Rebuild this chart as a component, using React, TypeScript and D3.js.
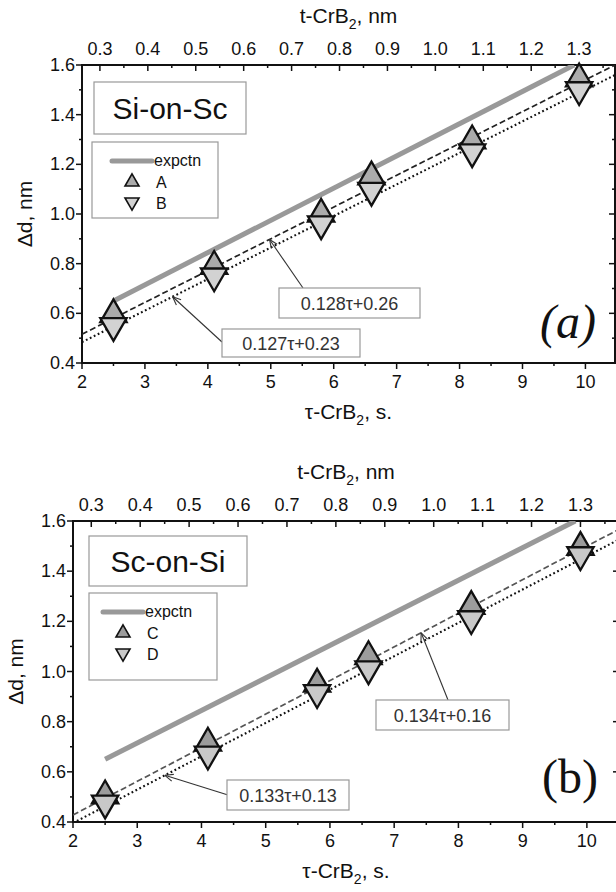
import React, { useEffect, useRef } from 'react';
import * as d3 from 'd3';

// deposition time of CrB2 (s) for every sample
const tau = [2.5, 4.1, 5.8, 6.6, 8.2, 9.9];
// Si-on-Sc
const seriesA = [0.595, 0.79, 1.0, 1.15, 1.295, 1.545];
const seriesB = [0.55, 0.75, 0.96, 1.095, 1.25, 1.5];
// Sc-on-Si
const seriesC = [0.505, 0.715, 0.95, 1.06, 1.26, 1.495];
const seriesD = [0.475, 0.67, 0.915, 1.01, 1.21, 1.465];
// expected shift
const expctnTau = [2.5, 9.82];
const expctnVal = [0.65, 1.6];
// linear fits [dashed, dotted]
const fitSlopeTop = [0.128, 0.127];
const fitInterTop = [0.26, 0.23];
const fitSlopeBot = [0.134, 0.133];
const fitInterBot = [0.16, 0.13];
const fitLabelsTop = ['0.128τ+0.26', '0.127τ+0.23'];
const fitLabelsBot = ['0.134τ+0.16', '0.133τ+0.13'];

const xTicks = [2, 3, 4, 5, 6, 7, 8, 9, 10];
const yTicks = [0.4, 0.6, 0.8, 1.0, 1.2, 1.4, 1.6];
const topTicks = [0.3, 0.4, 0.5, 0.6, 0.7, 0.8, 0.9, 1.0, 1.1, 1.2, 1.3];
const nmPerSec = 1.3 / 9.9;

const FONT = "'Liberation Sans', Arial, sans-serif";

function Panel({ cfg }) {
  const ref = useRef(null);

  useEffect(() => {
    const g = d3.select(ref.current);
    g.selectAll('*').remove();

    const x = d3.scaleLinear().domain(cfg.xDomain).range([cfg.left, cfg.right]);
    const y = d3.scaleLinear().domain([0.4, 1.6]).range([cfg.bottom, cfg.top]);
    const xt = d3.scaleLinear()
      .domain([cfg.xDomain[0] * nmPerSec, cfg.xDomain[1] * nmPerSec])
      .range([cfg.left, cfg.right]);

    const clipId = 'clip-' + cfg.id;
    g.append('clipPath').attr('id', clipId)
      .append('rect')
      .attr('x', cfg.left).attr('y', cfg.top)
      .attr('width', cfg.right - cfg.left).attr('height', cfg.bottom - cfg.top);

    // ticks
    const tickG = g.append('g').attr('stroke', '#111').attr('stroke-width', 1.5);
    const minorY = d3.range(0.5, 1.6, 0.2);
    yTicks.forEach(v => {
      tickG.append('line').attr('x1', cfg.left - 6).attr('x2', cfg.left).attr('y1', y(v)).attr('y2', y(v));
      tickG.append('line').attr('x1', cfg.right - 6).attr('x2', cfg.right).attr('y1', y(v)).attr('y2', y(v));
    });
    minorY.forEach(v => {
      tickG.append('line').attr('x1', cfg.left - 3).attr('x2', cfg.left).attr('y1', y(v)).attr('y2', y(v));
      tickG.append('line').attr('x1', cfg.right - 3).attr('x2', cfg.right).attr('y1', y(v)).attr('y2', y(v));
    });
    xTicks.forEach(v => {
      tickG.append('line').attr('x1', x(v)).attr('x2', x(v)).attr('y1', cfg.bottom).attr('y2', cfg.bottom + 6);
      tickG.append('line').attr('x1', x(v + 0.5)).attr('x2', x(v + 0.5)).attr('y1', cfg.bottom).attr('y2', cfg.bottom + 3);
    });
    topTicks.forEach(v => {
      tickG.append('line').attr('x1', xt(v)).attr('x2', xt(v)).attr('y1', cfg.top).attr('y2', cfg.top + 6);
      tickG.append('line').attr('x1', xt(v + 0.05)).attr('x2', xt(v + 0.05)).attr('y1', cfg.top).attr('y2', cfg.top + 3);
    });

    // spines
    g.append('rect')
      .attr('x', cfg.left).attr('y', cfg.top)
      .attr('width', cfg.right - cfg.left).attr('height', cfg.bottom - cfg.top)
      .attr('fill', 'none').attr('stroke', '#111').attr('stroke-width', 2);

    // tick labels
    const lab = g.append('g').attr('font-family', FONT).attr('font-size', 18).attr('fill', '#111');
    yTicks.forEach(v => {
      lab.append('text').attr('x', cfg.left - 7).attr('y', y(v) + 6)
        .attr('text-anchor', 'end').text(v.toFixed(1));
    });
    xTicks.forEach(v => {
      lab.append('text').attr('x', x(v)).attr('y', cfg.bottom + 25)
        .attr('text-anchor', 'middle').text(String(v));
    });
    topTicks.forEach(v => {
      lab.append('text').attr('x', xt(v)).attr('y', cfg.top - 10)
        .attr('text-anchor', 'middle').text(v.toFixed(1));
    });

    // axis titles
    const midX = (cfg.left + cfg.right) / 2;
    const tt = lab.append('text').attr('x', midX).attr('y', cfg.top - 42)
      .attr('text-anchor', 'middle').attr('font-size', 21);
    tt.append('tspan').text('t-CrB');
    tt.append('tspan').attr('dy', 6).attr('font-size', 14).text('2');
    tt.append('tspan').attr('dy', -6).text(', nm');

    const bt = lab.append('text').attr('x', midX).attr('y', cfg.bottom + 56)
      .attr('text-anchor', 'middle').attr('font-size', 21);
    bt.append('tspan').text('τ-CrB');
    bt.append('tspan').attr('dy', 6).attr('font-size', 14).text('2');
    bt.append('tspan').attr('dy', -6).text(', s.');

    lab.append('text')
      .attr('transform', `translate(${cfg.left - 50},${(cfg.top + cfg.bottom) / 2}) rotate(-90)`)
      .attr('text-anchor', 'middle').attr('font-size', 21).text('Δd, nm');

    // lines
    const plot = g.append('g').attr('clip-path', `url(#${clipId})`);
    const fitX = cfg.xDomain;
    const fitStyles = [
      { dash: '6,3', color: cfg.dashColor, width: 1.7 },
      { dash: '1.8,2.6', color: '#111', width: 2.1 }
    ];
    cfg.slopes.forEach((k, i) => {
      plot.append('line')
        .attr('x1', x(fitX[0])).attr('y1', y(k * fitX[0] + cfg.inters[i]))
        .attr('x2', x(fitX[1])).attr('y2', y(k * fitX[1] + cfg.inters[i]))
        .attr('stroke', fitStyles[i].color).attr('stroke-width', fitStyles[i].width)
        .attr('stroke-dasharray', fitStyles[i].dash);
    });

    const expLine = d3.line().x(d => x(d[0])).y(d => y(d[1]));
    plot.append('path')
      .attr('d', expLine(expctnTau.map((t, i) => [t, expctnVal[i]])))
      .attr('fill', 'none').attr('stroke', '#999').attr('stroke-width', 5);

    // markers
    const sym = d3.symbol(d3.symbolTriangle, 300);
    g.append('g').selectAll('path').data(cfg.up).enter().append('path')
      .attr('d', sym)
      .attr('transform', (d, i) => `translate(${x(tau[i])},${y(d)})`)
      .attr('fill', cfg.upFill).attr('stroke', '#111').attr('stroke-width', 2.3);
    g.append('g').selectAll('path').data(cfg.down).enter().append('path')
      .attr('d', sym)
      .attr('transform', (d, i) => `translate(${x(tau[i])},${y(d)}) rotate(180)`)
      .attr('fill', cfg.downFill).attr('stroke', '#111').attr('stroke-width', 2.3);

    // title box
    g.append('rect')
      .attr('x', cfg.title.x).attr('y', cfg.title.y).attr('width', cfg.title.w).attr('height', cfg.title.h)
      .attr('fill', '#fff').attr('stroke', '#999').attr('stroke-width', 1.2);
    g.append('text').attr('x', cfg.title.x + cfg.title.w / 2).attr('y', cfg.title.y + cfg.title.h / 2 + 11)
      .attr('text-anchor', 'middle').attr('font-family', FONT).attr('font-size', 30).attr('fill', '#111')
      .text(cfg.title.text);

    // legend
    const L = cfg.legend;
    g.append('rect').attr('x', L.x).attr('y', L.y).attr('width', L.w).attr('height', L.h)
      .attr('fill', '#fff').attr('stroke', '#999').attr('stroke-width', 1.2);
    g.append('line').attr('x1', L.x + L.lx).attr('x2', L.x + L.lx + 40)
      .attr('y1', L.y + 19).attr('y2', L.y + 19)
      .attr('stroke', '#999').attr('stroke-width', 5).attr('stroke-linecap', 'round');
    const legSym = d3.symbol(d3.symbolTriangle, 85);
    const lt = g.append('g').attr('font-family', FONT).attr('fill', '#111');
    lt.append('text').attr('x', L.x + L.lx + 42).attr('y', L.y + 24).attr('font-size', 16).text('expctn');
    g.append('path').attr('d', legSym)
      .attr('transform', `translate(${L.x + L.lx + 20},${L.y + 40})`)
      .attr('fill', cfg.upFill).attr('stroke', '#111').attr('stroke-width', 1.6);
    g.append('path').attr('d', legSym)
      .attr('transform', `translate(${L.x + L.lx + 20},${L.y + 60}) rotate(180)`)
      .attr('fill', cfg.downFill).attr('stroke', '#111').attr('stroke-width', 1.6);
    lt.append('text').attr('x', L.x + L.lx + 44).attr('y', L.y + 46).attr('font-size', 16).text(cfg.names[0]);
    lt.append('text').attr('x', L.x + L.lx + 44).attr('y', L.y + 67).attr('font-size', 16).text(cfg.names[1]);

    // fit annotations
    cfg.notes.forEach((n, i) => {
      const tx = x(n.at);
      const ty = y(cfg.slopes[i] * n.at + cfg.inters[i]);
      const ang = Math.atan2(ty - n.sy, tx - n.sx);
      g.append('line').attr('x1', n.sx).attr('y1', n.sy).attr('x2', tx).attr('y2', ty)
        .attr('stroke', '#333').attr('stroke-width', 1.1);
      [0.4, -0.4].forEach(da => {
        g.append('line').attr('x1', tx).attr('y1', ty)
          .attr('x2', tx - 9 * Math.cos(ang + da)).attr('y2', ty - 9 * Math.sin(ang + da))
          .attr('stroke', '#333').attr('stroke-width', 1.1);
      });
      g.append('rect').attr('x', n.bx).attr('y', n.by).attr('width', n.bw).attr('height', n.bh)
        .attr('fill', '#fff').attr('stroke', '#999').attr('stroke-width', 1.2);
      g.append('text').attr('x', n.bx + n.bw / 2).attr('y', n.by + n.bh / 2 + 6.5)
        .attr('text-anchor', 'middle').attr('font-family', FONT).attr('font-size', 18).attr('fill', '#333')
        .text(cfg.fitLabels[i]);
    });

    // panel letter
    g.append('text').attr('x', cfg.letter.x).attr('y', cfg.letter.y)
      .attr('text-anchor', 'middle').attr('font-family', "'Liberation Serif', 'Times New Roman', serif")
      .attr('font-size', 48).attr('font-style', cfg.letter.italic ? 'italic' : 'normal').attr('fill', '#111')
      .text(cfg.letter.text);
  }, [cfg]);

  return <g ref={ref} />;
}

const panelTop = {
  id: 'a', left: 82, right: 615, top: 65, bottom: 363, xDomain: [2, 10.47],
  up: seriesA, down: seriesB, names: ['A', 'B'], upFill: '#ababab', downFill: '#d2d2d2',
  slopes: fitSlopeTop, inters: fitInterTop, fitLabels: fitLabelsTop, dashColor: '#222',
  title: { x: 94, y: 82, w: 152, h: 52, text: 'Si-on-Sc' },
  legend: { x: 92, y: 142, w: 126, h: 76, lx: 20 },
  notes: [
    { at: 4.98, sx: 303, sy: 288, bx: 279, by: 288, bw: 141, bh: 30 },
    { at: 3.44, sx: 222, sy: 342, bx: 222, by: 329, bw: 138, bh: 28 }
  ],
  letter: { x: 568, y: 338, text: '(a)', italic: true }
};

const panelBot = {
  id: 'b', left: 73, right: 619, top: 521, bottom: 822, xDomain: [2, 10.5],
  up: seriesC, down: seriesD, names: ['C', 'D'], upFill: '#9c9c9c', downFill: '#c8c8c8',
  slopes: fitSlopeBot, inters: fitInterBot, fitLabels: fitLabelsBot, dashColor: '#555',
  title: { x: 89, y: 536, w: 158, h: 50, text: 'Sc-on-Si' },
  legend: { x: 89, y: 593, w: 128, h: 87, lx: 14 },
  notes: [
    { at: 7.42, sx: 448, sy: 700, bx: 376, by: 700, bw: 133, bh: 30 },
    { at: 3.43, sx: 228, sy: 795, bx: 227, by: 780, bw: 122, bh: 30 }
  ],
  letter: { x: 570, y: 793, text: '(b)', italic: false }
};

export default function App() {
  return (
    <svg width={616} height={892} style={{ position: 'absolute', left: 0, top: 0, background: '#fff' }}>
      <rect width={616} height={892} fill="#fff" />
      <Panel cfg={panelTop} />
      <Panel cfg={panelBot} />
    </svg>
  );
}
